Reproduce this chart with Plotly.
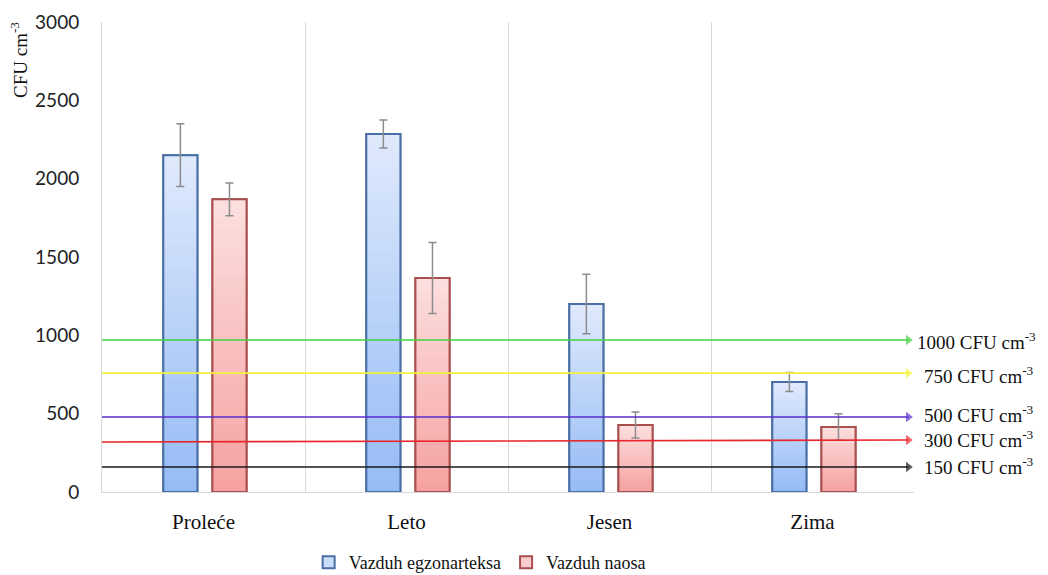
import plotly.graph_objects as go

# ---------------- data ----------------
seasons = ["Proleće", "Leto", "Jesen", "Zima"]
egzonarteks = [2150, 2285, 1200, 702]
egzonarteks_err = [200, 90, 190, 60]
naos = [1868, 1366, 428, 415]
naos_err = [105, 227, 83, 85]
series_names = ["Vazduh egzonarteksa", "Vazduh naosa"]

threshold_labels = [1000, 750, 500, 300, 150]
threshold_levels_left = [970, 759, 479, 319, 160]
threshold_levels_right = [970, 759, 479, 332, 160]
threshold_colors = ["#3fd33f", "#f2f23a", "#5a2ccf", "#e8262b", "#1a1a1a"]
label_levels = [966, 748, 500, 340, 168]

y_ticks = [0, 500, 1000, 1500, 2000, 2500, 3000]

# ---------------- style ----------------
serif = "Liberation Serif"
sans = "Lato"
N_STEPS = 30
BAR_W = 0.168
styles = [
    dict(top=(222, 233, 252), bottom=(148, 186, 245), border="#4a6fa5", offset=-0.198),
    dict(top=(252, 222, 222), bottom=(246, 160, 160), border="#a9504f", offset=0.044),
]


def mix(c1, c2, t):
    return "rgb(%d,%d,%d)" % tuple(round(a + (b - a) * t) for a, b in zip(c1, c2))


fig = go.Figure()
for vals, errs, name, st in zip([egzonarteks, naos], [egzonarteks_err, naos_err], series_names, styles):
    # base (legend carrier)
    fig.add_trace(go.Bar(
        x=seasons, y=vals, name=name, offset=st["offset"], width=BAR_W,
        marker=dict(color=mix(st["top"], st["bottom"], 0.25), line=dict(color=st["border"], width=2)),
        hoverinfo="skip", showlegend=True, legendgroup=name,
    ))
    # gradient layers (lighter at top, darker at bottom)
    for k in range(N_STEPS, 0, -1):
        frac = k / N_STEPS
        fig.add_trace(go.Bar(
            x=seasons, y=[v * frac for v in vals], offset=st["offset"], width=BAR_W,
            marker=dict(color=mix(st["bottom"], st["top"], frac), line=dict(width=0)),
            hoverinfo="skip", showlegend=False, legendgroup=name,
        ))
    # outline + error bars
    fig.add_trace(go.Bar(
        x=seasons, y=vals, offset=st["offset"], width=BAR_W,
        marker=dict(color="rgba(0,0,0,0)", line=dict(color=st["border"], width=2)),
        error_y=dict(type="data", array=errs, visible=True, color="#8c8c8c", thickness=1.5, width=4),
        showlegend=False, legendgroup=name, name=name,
    ))

# threshold lines with arrowheads (on an invisible overlaying numeric x axis)
for lab, yl, yr, col in zip(threshold_labels, threshold_levels_left, threshold_levels_right, threshold_colors):
    fig.add_trace(go.Scatter(
        x=[0, 0.993], y=[yl, yr], xaxis="x2", yaxis="y",
        mode="lines+markers", line=dict(color=col, width=1.6),
        marker=dict(symbol="triangle-right", size=[0, 9], color=col, line=dict(width=0)),
        cliponaxis=False, showlegend=False, hoverinfo="skip",
    ))

for lab, col, ly in zip(threshold_labels, threshold_colors, label_levels):
    fig.add_annotation(
        x=1.001 if lab == 1000 else 1.010, y=ly, xref="paper", yref="y",
        xanchor="left", yanchor="middle", showarrow=False,
        text=f"{lab} CFU cm<sup>-3</sup>", font=dict(family=serif, size=19, color="#111111"),
    )

# y-axis title near top
fig.add_annotation(
    x=-0.103, y=1.005, xref="paper", yref="paper", xanchor="center", yanchor="top",
    text="CFU cm<sup>-3</sup>", textangle=-90, showarrow=False,
    font=dict(family=serif, size=19, color="#111111"),
)

fig.update_layout(
    width=1040, height=567,
    margin=dict(l=94, r=134, t=14, b=83),
    paper_bgcolor="white", plot_bgcolor="white",
    barmode="overlay",
    showlegend=True,
    legend=dict(orientation="h", xref="container", yref="container", x=0.4535, y=0.022,
                xanchor="center", yanchor="middle",
                font=dict(family=serif, size=18, color="#111111"), itemwidth=30,
                traceorder="normal", bgcolor="rgba(0,0,0,0)"),
    xaxis=dict(type="category", categoryorder="array", categoryarray=seasons,
               range=[-0.5, 3.5], tickson="boundaries", showgrid=True, gridcolor="#d9d9d9",
               gridwidth=1, showline=True, linecolor="#d9d9d9", ticks="", zeroline=False,
               tickfont=dict(family=serif, size=21, color="#111111"), ticklabelstandoff=11,
               automargin=False),
    xaxis2=dict(overlaying="x", range=[0, 1], visible=False, fixedrange=True),
    yaxis=dict(range=[0, 3000], tickvals=y_ticks, showgrid=False, zeroline=False,
               showline=True, linecolor="#d9d9d9", ticks="",
               tickfont=dict(family=sans, size=19, color="#222222"), ticklabelstandoff=18,
               automargin=False),
)

fig.write_html("out.html")
